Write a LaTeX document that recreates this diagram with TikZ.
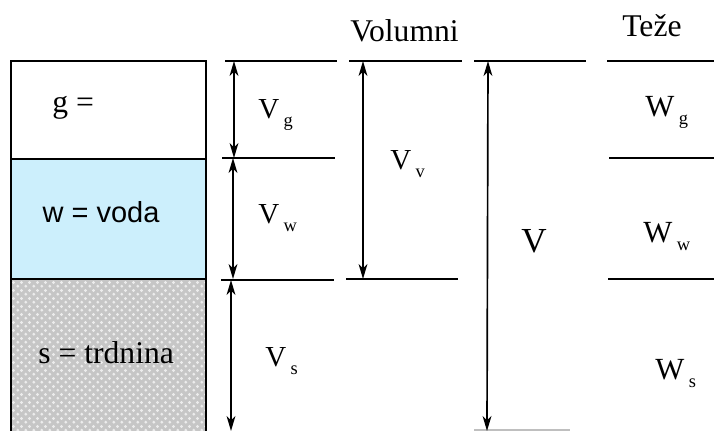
\documentclass[tikz,border=0pt]{standalone}
\usepackage{fontspec}
\setmainfont{Liberation Serif}
\newfontfamily\arialfont{Liberation Sans}
\usetikzlibrary{arrows.meta,patterns}

% lowered index as in the drawing
\newcommand{\lowsub}[1]{\kern0.15em\raisebox{-4pt}{\fontsize{10.5}{10.5}\selectfont #1}}

% grainy fill of the solid phase
\pgfdeclarepatternformonly{grains}{\pgfpointorigin}{\pgfpoint{4.6pt}{4.6pt}}{\pgfpoint{4.6pt}{4.6pt}}{
  \pgfpathcircle{\pgfpoint{1.15pt}{1.15pt}}{1pt}
  \pgfpathcircle{\pgfpoint{3.45pt}{3.45pt}}{1pt}
  \pgfusepath{fill}}

\begin{document}
\begin{tikzpicture}[x=0.02cm,y=-0.02cm,
  phase/.style={line width=1.1pt},
  level/.style={line width=0.8pt},
  dimline/.style={line width=0.95pt,{Stealth[length=8.5pt,width=5pt,inset=2.5pt]}-{Stealth[length=8.5pt,width=5pt,inset=2.5pt]}},
  vlab/.style={anchor=base west,inner sep=0pt,font=\fontsize{16.5}{16.5}\selectfont},
  wlab/.style={anchor=base west,inner sep=0pt,font=\fontsize{17.5}{17.5}\selectfont},
  head/.style={anchor=base west,inner sep=0pt,font=\fontsize{18}{18}\selectfont}]

\useasboundingbox (0,0) rectangle (714,431);

% the three phases
\draw [phase,fill=white] (11,61) rectangle (206,159);
\draw [phase,fill=cyan!20] (11,159) rectangle (206,279);
\fill [gray!45,postaction={pattern=grains,pattern color=white!85!gray}] (11,279) rectangle (206,431);
\draw [phase] (11,431) -- (11,279) -- (206,279) -- (206,431);

\node [anchor=base west,inner sep=0pt,font=\fontsize{18}{18}\selectfont] (gas) at (52,113) {g =};
\node [inner sep=0pt,font=\arialfont\fontsize{16.5}{16.5}\selectfont] (water) at (101,212) {w = voda};
\node [anchor=base west,inner sep=0pt,font=\fontsize{18}{18}\selectfont] (solid) at (38,364) {s = trdnina};

% headers
\node [head] (volumes) at (350,42) {Volumni};
\node [head] (weights) at (622,37) {Teže};

% level lines
\coordinate (a1) at (225,61);  \coordinate (a2) at (337,61);
\coordinate (b1) at (222,158); \coordinate (b2) at (335,158);
\coordinate (c1) at (221,280); \coordinate (c2) at (334,280);
\draw [level] (a1) -- (a2);
\draw [level] (b1) -- (b2);
\draw [level] (c1) -- (c2);

\coordinate (d1) at (349,61);  \coordinate (d2) at (462,61);
\coordinate (e1) at (346,279); \coordinate (e2) at (458,279);
\draw [level] (d1) -- (d2);
\draw [level] (e1) -- (e2);

\coordinate (f1) at (474,61);  \coordinate (f2) at (586,61);
\coordinate (h1) at (474,430); \coordinate (h2) at (570,430);
\draw [level] (f1) -- (f2);
\draw [level,gray!50] (h1) -- (h2);

\coordinate (k1) at (607,61);  \coordinate (k2) at (714,61);
\coordinate (l1) at (609,158); \coordinate (l2) at (714,158);
\coordinate (m1) at (608,279); \coordinate (m2) at (714,279);
\draw [level] (k1) -- (k2);
\draw [level] (l1) -- (l2);
\draw [level] (m1) -- (m2);

% dimension arrows
\coordinate (vg1) at (234,61);  \coordinate (vg2) at (234,158);
\coordinate (vw1) at (233,158); \coordinate (vw2) at (233,279);
\coordinate (vs1) at (231,280); \coordinate (vs2) at (231,431);
\coordinate (vv1) at (363,61);  \coordinate (vv2) at (363,279);
\coordinate (vt1) at (488,61);  \coordinate (vt2) at (487,431);
\draw [dimline] (vg1) -- (vg2);
\draw [dimline] (vw1) -- (vw2);
\draw [dimline] (vs1) -- (vs2);
\draw [dimline] (vv1) -- (vv2);
\draw [dimline] (vt1) -- (vt2);

% labels
\node [vlab] (Vg) at (258,119) {V\lowsub{g}};
\node [vlab] (Vw) at (258,224) {V\lowsub{w}};
\node [vlab] (Vs) at (265,367) {V\lowsub{s}};
\node [vlab] (Vv) at (390,170) {V\lowsub{v}};
\node [anchor=base west,inner sep=0pt,font=\fontsize{20}{20}\selectfont] (Vt) at (521,253) {V};
\node [wlab] (Wg) at (645,117) {W\lowsub{g}};
\node [wlab] (Ww) at (643,243) {W\lowsub{w}};
\node [wlab] (Ws) at (655,380) {W\lowsub{s}};
\end{tikzpicture}
\end{document}
